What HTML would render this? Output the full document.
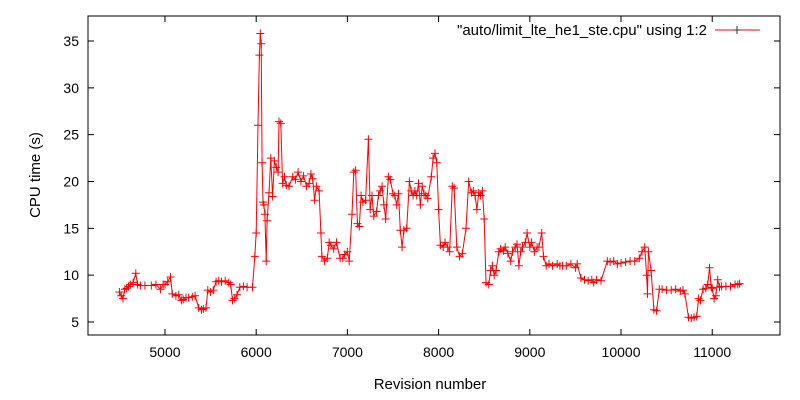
<!DOCTYPE html>
<html><head><meta charset="utf-8"><style>
html,body{margin:0;padding:0;background:#fff;}
svg{display:block;font-family:"Liberation Sans",Arial,sans-serif;}
</style></head><body>
<svg id="chart" width="800" height="400" viewBox="0 0 800 400">
<rect x="88" y="16" width="692" height="319" fill="none" stroke="#000" stroke-width="1"/>
<g id="axes"></g>
<g id="series"></g>
<text x="40" y="175" text-anchor="middle" font-size="15" transform="rotate(-90 40 175)">CPU time (s)</text>
<text x="430" y="389" text-anchor="middle" font-size="15">Revision number</text>
<g>
<text x="707" y="35" text-anchor="end" font-size="15">"auto/limit_lte_he1_ste.cpu" using 1:2</text>
<line x1="715" y1="30" x2="760" y2="30" stroke="#f00" stroke-width="1"/>
<path d="M733,30h8M737,26v8" stroke="#333" stroke-width="1"/>
</g>
</svg>
<script>
const revisions=[4500,4520,4540,4560,4580,4600,4620,4650,4680,4700,4730,4780,4850,4900,4950,4980,5000,5030,5060,5080,5120,5150,5180,5200,5230,5260,5300,5330,5370,5400,5420,5450,5470,5500,5530,5560,5590,5620,5660,5700,5720,5740,5760,5790,5820,5860,5900,5960,5985,6000,6020,6035,6045,6055,6065,6075,6085,6095,6110,6120,6140,6160,6180,6200,6220,6240,6250,6270,6290,6310,6330,6360,6400,6430,6460,6490,6520,6550,6580,6600,6620,6640,6660,6690,6710,6720,6750,6780,6800,6820,6850,6880,6920,6950,6970,7000,7020,7050,7070,7090,7110,7130,7150,7170,7200,7230,7250,7270,7290,7320,7340,7360,7380,7400,7420,7450,7470,7500,7520,7540,7560,7580,7600,7620,7650,7680,7700,7720,7740,7760,7780,7800,7820,7840,7860,7880,7920,7940,7960,7980,8000,8020,8050,8070,8100,8120,8150,8170,8200,8230,8260,8300,8330,8360,8380,8400,8420,8440,8460,8480,8500,8520,8550,8570,8590,8610,8630,8660,8680,8710,8730,8760,8790,8810,8840,8860,8880,8900,8920,8950,8970,9000,9020,9050,9080,9100,9130,9150,9180,9210,9250,9300,9330,9360,9400,9450,9500,9520,9560,9600,9640,9680,9700,9730,9780,9850,9880,9920,9960,10000,10050,10100,10150,10200,10230,10260,10280,10290,10300,10330,10360,10390,10420,10450,10500,10550,10600,10650,10680,10700,10740,10770,10800,10830,10850,10870,10900,10930,10950,10970,10990,11000,11020,11040,11060,11080,11100,11150,11200,11250,11280,11300];
const cpuTimes=[8.2,7.8,7.5,8.5,8.6,8.8,9.0,9.2,10.2,9.0,8.9,8.9,8.9,9.0,8.5,9.0,9.0,9.3,9.8,8.0,7.8,7.9,7.3,7.4,7.6,7.6,7.7,7.8,6.5,6.3,6.4,6.5,8.4,8.2,8.4,9.3,9.4,9.3,9.4,9.2,9.0,7.3,7.5,7.9,8.7,8.8,8.7,8.7,12,14.5,26,33.5,35.8,34.7,22,17.8,17.5,16.5,11.5,15.8,18.8,22.5,18.4,22.2,21.5,21.0,26.4,26.2,19.8,20.5,19.6,19.5,20.5,20.2,21.0,20.0,20.6,19.5,19.8,20.8,20.3,18.0,19.5,19.0,14.5,12.0,11.5,11.8,13.5,13.2,12.8,13.5,11.8,11.8,12.2,12.5,11.5,16.5,21.0,21.2,15.5,15.2,18.5,17.8,18.0,24.5,17.0,18.5,16.3,16.8,18.5,19.0,19.5,17.5,16.0,20.5,20.2,18.7,18.5,17.5,18.7,14.8,13.0,14.8,15.0,20.0,19.0,18.5,19.0,18.5,19.8,17.5,19.5,18.7,18.5,18.2,20.5,22.5,23.0,22.0,17.0,13.2,13.0,13.5,13.0,12.5,19.5,19.3,13.0,12.0,12.3,15.0,20.0,18.8,19.0,18.5,17.0,18.8,18.5,19.0,16.0,9.2,9.0,10.5,11.0,10.0,10.5,12.5,12.8,12.6,13.0,12.3,11.5,12.5,13.0,13.3,11.0,12.5,13.0,13.5,14.5,13.0,13.5,12.5,13.0,13.0,14.5,12.0,11.0,11.2,11.0,11.2,11.0,11.0,11.0,11.2,10.8,11.2,9.7,9.5,9.4,9.5,9.2,9.5,9.4,11.5,11.4,11.5,11.2,11.3,11.4,11.5,11.5,11.8,12.5,13.0,10.0,8.0,12.5,10.5,6.3,6.2,8.5,8.5,8.4,8.4,8.5,8.3,8.4,8.0,5.5,5.4,5.5,5.6,7.5,7.3,8.5,8.6,9.0,10.8,8.7,8.6,7.5,7.8,9.5,8.7,8.8,8.8,8.8,9.0,9.0,9.1];
const xTicks=[5000,6000,7000,8000,9000,10000,11000];
const yTicks=[5,10,15,20,25,30,35];

const NS="http://www.w3.org/2000/svg";
const L=88,R=780,T=16,B=335;
const xMin=4156,xMax=11743,yMin=3.61,yMax=37.67;
const xs=v=>L+(v-xMin)/(xMax-xMin)*(R-L);
const ys=v=>B-(v-yMin)/(yMax-yMin)*(B-T);
const axes=document.getElementById('axes');
const series=document.getElementById('series');
function mk(tag,attrs,parent){const e=document.createElementNS(NS,tag);for(const k in attrs)e.setAttribute(k,attrs[k]);parent.appendChild(e);return e;}
xTicks.forEach(t=>{
  const x=xs(t);
  const tk=mk('path',{d:`M${x},${B}v-6M${x},${T}v6`,stroke:'#000','stroke-width':1},axes);
  
  
  const tx=mk('text',{x:x,y:B+22,'text-anchor':'middle','font-size':14},axes);
  tx.textContent=t;
  
  
});
yTicks.forEach(t=>{
  const y=ys(t);
  const tk=mk('path',{d:`M${L},${y}h6M${R},${y}h-6`,stroke:'#000','stroke-width':1},axes);
  
  
  const tx=mk('text',{x:L-9,y:y+5,'text-anchor':'end','font-size':14},axes);
  tx.textContent=t;
  
  
});
const pts=revisions.map((r,i)=>xs(r).toFixed(1)+','+ys(cpuTimes[i]).toFixed(1)).join(' ');
const line=mk('polyline',{points:pts,fill:'none',stroke:'#f00','stroke-width':1},series);


let d='';
revisions.forEach((r,i)=>{const x=xs(r),y=ys(cpuTimes[i]);d+=`M${(x-4).toFixed(1)},${y.toFixed(1)}h8M${x.toFixed(1)},${(y-4).toFixed(1)}v8`;});
const marks=mk('path',{d:d,stroke:'#f00','stroke-width':1,fill:'none'},series);


</script>
</body></html>
